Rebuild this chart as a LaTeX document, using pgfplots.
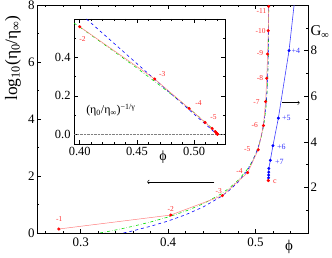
\documentclass[border=0pt]{standalone}
\usepackage{fontspec}
\setmainfont{Liberation Serif}
\usepackage{pgfplots}
\pgfplotsset{compat=1.18}
\definecolor{rpt}{HTML}{FF0000}
\definecolor{rln}{HTML}{FF8080}
\definecolor{gln}{HTML}{00DD00}
\definecolor{bln}{HTML}{0000FF}
\definecolor{gline}{HTML}{4040FF}
\definecolor{rlab}{HTML}{FF3030}
\definecolor{blab}{HTML}{3030FF}
\begin{document}
\begin{tikzpicture}
\pgfplotsset{
  common/.style={
    scale only axis, anchor=south west,
    tick align=inside,
    major tick length=4bp, minor tick length=2bp,
    /pgf/number format/assume math mode=true,
    every tick/.style={black, line width=0.5pt},
    axis line style={line width=0.7pt},
    clip=true,
  }
}
% ---------------- main axis ----------------
\begin{axis}[common,
  at={(37bp,25bp)}, width=271bp, height=228bp,
  xmin=0.25, xmax=0.56, ymin=0, ymax=8,
  xtick={0.3,0.4,0.5}, xticklabels={0.3,0.4,0.5},
  minor xtick={0.26,0.28,0.32,0.34,0.36,0.38,0.42,0.44,0.46,0.48,0.52,0.54},
  ytick={0,2,4,6,8}, yticklabels={0,2,4,6,8}, minor ytick={1,3,5,7},
  ytick pos=left,
  tick label style={font=\fontsize{13}{13}\selectfont},
  xticklabel style={yshift=-1bp},
  yticklabel style={xshift=1bp},
]
% green dash-dot fit
\addplot[gln, dash dot, line width=0.6pt] coordinates {
(0.322,0.00) (0.34,0.105) (0.36,0.237) (0.38,0.387) (0.40,0.561) (0.42,0.768)
(0.44,1.024) (0.46,1.359) (0.47,1.577) (0.48,1.848) (0.49,2.211) (0.495,2.451)
(0.50,2.760) (0.503,2.998) (0.506,3.305) (0.508,3.571) (0.510,3.924) (0.511,4.156)
(0.512,4.451) (0.513,4.858) (0.5135,5.138) (0.514,5.516) (0.5145,6.102)
(0.5148,6.709) (0.5150,7.462) (0.51508,8.015)};
% blue dashed fit
\addplot[bln, dashed, line width=0.6pt] coordinates {
(0.349,0.00) (0.36,0.078) (0.38,0.237) (0.40,0.421) (0.42,0.641) (0.44,0.912)
(0.46,1.268) (0.47,1.498) (0.48,1.786) (0.49,2.170) (0.495,2.425) (0.50,2.752)
(0.503,3.005) (0.506,3.330) (0.508,3.612) (0.510,3.987) (0.511,4.233)
(0.512,4.546) (0.513,4.977) (0.5135,5.274) (0.514,5.674) (0.5145,6.295)
(0.5148,6.939) (0.5150,7.736) (0.51505,8.07)};
% red data
\addplot[rln, line width=0.5pt, mark=*, mark size=1.3pt,
  mark options={solid, draw=rpt, fill=rpt}] coordinates {
(0.275,0.14) (0.403,0.63) (0.462,1.31) (0.491,2.12) (0.503,2.92) (0.509,3.77)
(0.5115,4.61) (0.5128,5.43) (0.5138,6.28) (0.5145,7.10) (0.5150,7.95)};
\begin{scope}[every node/.style={text=rlab, font=\fontsize{7.5}{7.5}\selectfont}]
\node at (axis cs:0.2755,0.48) {-1};
\node at (axis cs:0.403,0.83) {-2};
\node at (axis cs:0.4578,1.47) {-3};
\node at (axis cs:0.4816,2.16) {-4};
\node at (axis cs:0.4904,2.93) {-5};
\node at (axis cs:0.4992,3.77) {-6};
\node at (axis cs:0.5010,4.60) {-7};
\node at (axis cs:0.5051,5.43) {-8};
\node at (axis cs:0.5051,6.30) {-9};
\node at (axis cs:0.5059,7.10) {-10};
\node at (axis cs:0.5069,7.79) {-11};
\end{scope}
\draw[->, line width=0.6pt] (axis cs:0.453,1.79) -- (axis cs:0.376,1.79);
\draw[->, line width=0.6pt] (axis cs:0.5303,4.57) -- (axis cs:0.5506,4.57);
\end{axis}
% ---------------- right axis G_inf ----------------
\begin{axis}[common,
  at={(37bp,25bp)}, width=271bp, height=228bp,
  xmin=0.25, xmax=0.56, ymin=0, ymax=10,
  axis x line=none, axis y line*=right,
  ytick={2,4,6,8}, yticklabels={2,4,6,8}, minor ytick={1,3,5,7,9},
  tick label style={font=\fontsize{13}{13}\selectfont},
  yticklabel style={xshift=-1bp},
]
\addplot[gline, line width=0.6pt] coordinates {
(0.5146,2.30) (0.5149,2.42) (0.5150,2.54) (0.5151,2.67) (0.5152,2.83)
(0.5169,3.19) (0.5199,3.83) (0.5261,5.04) (0.5383,8.0) (0.5441,10.0)};
\addplot[only marks, mark=*, mark size=1.3pt, mark options={draw=bln, fill=bln}] coordinates {
(0.5149,2.42) (0.5150,2.54) (0.5151,2.67) (0.5152,2.83)
(0.5169,3.19) (0.5199,3.83) (0.5261,5.04) (0.5383,8.0)};
\addplot[only marks, mark=*, mark size=1.4pt, mark options={draw=rpt, fill=rpt}] coordinates {
(0.5146,2.30)};
\begin{scope}[every node/.style={text=blab, font=\fontsize{8}{8}\selectfont}]
\node at (axis cs:0.5460,8.0) {+4};
\node at (axis cs:0.5353,5.04) {+5};
\node at (axis cs:0.5295,3.77) {+6};
\node at (axis cs:0.5272,3.14) {+7};
\end{scope}
\node[text=rlab, font=\fontsize{8}{8}\selectfont] at (axis cs:0.5222,2.26) {c};
\end{axis}
% ---------------- inset ----------------
\begin{axis}[common,
  at={(74bp,114bp)}, width=151bp, height=125bp,
  xmin=0.395, xmax=0.527, ymin=-0.05, ymax=0.6,
  axis background/.style={fill=white},
  xtick={0.40,0.45,0.50}, xticklabels={0.40,0.45,0.50},
  minor xtick={0.41,0.42,0.43,0.44,0.46,0.47,0.48,0.49,0.51,0.52},
  ytick={0,0.2,0.4}, yticklabels={0.0,0.2,0.4}, minor ytick={0.1,0.3,0.5},
  tick label style={font=\fontsize{12.5}{12.5}\selectfont},
]
\addplot[gray, densely dotted, line width=0.4pt] coordinates {(0.395,0) (0.527,0)};
\addplot[gln, dash dot, line width=0.6pt] coordinates {
(0.395,0.579) (0.41,0.516) (0.43,0.431) (0.45,0.345) (0.47,0.255) (0.49,0.162)
(0.50,0.113) (0.51,0.062) (0.515,0.035) (0.518,0.017) (0.5205,0.0)};
\addplot[bln, dashed, line width=0.6pt] coordinates {(0.4059,0.6) (0.5200,0.0)};
\addplot[rln, line width=0.5pt, mark=*, mark size=1.3pt,
  mark options={solid, draw=rpt, fill=rpt}] coordinates {
(0.400,0.560) (0.4655,0.288) (0.4956,0.135) (0.5096,0.062) (0.5157,0.031)
(0.5185,0.0143) (0.5196,0.0067) (0.5201,0.0031) (0.5203,0.0014) (0.5204,0.0007)};
\begin{scope}[every node/.style={text=rlab, font=\fontsize{7.5}{7.5}\selectfont}]
\node at (axis cs:0.4024,0.495) {-2};
\node at (axis cs:0.4722,0.316) {-3};
\node at (axis cs:0.5038,0.162) {-4};
\node at (axis cs:0.5169,0.088) {-5};
\end{scope}
\node[font=\fontsize{12}{12}\selectfont] at (axis cs:0.4272,0.126)
  {(η\textsubscript{0}/η\textsubscript{∞})\textsuperscript{−1/γ}};
\end{axis}
% ---------------- axis titles (outside the clipped axes) ----------------
\node[font=\fontsize{17.5}{17.5}\selectfont, rotate=90] at (13bp,200bp)
  {log\textsubscript{10}(η\textsubscript{0}/η\textsubscript{∞})};
\node[font=\fontsize{15}{15}\selectfont] at (289bp,11bp) {ϕ};
\node[font=\fontsize{15}{15}\selectfont] at (320bp,226bp) {G\textsubscript{∞}};
\node[font=\fontsize{14}{14}\selectfont] at (163bp,101bp) {ϕ};
\pgfresetboundingbox
\path[use as bounding box] (0,0) rectangle (332bp,258bp);
\end{tikzpicture}
\end{document}
